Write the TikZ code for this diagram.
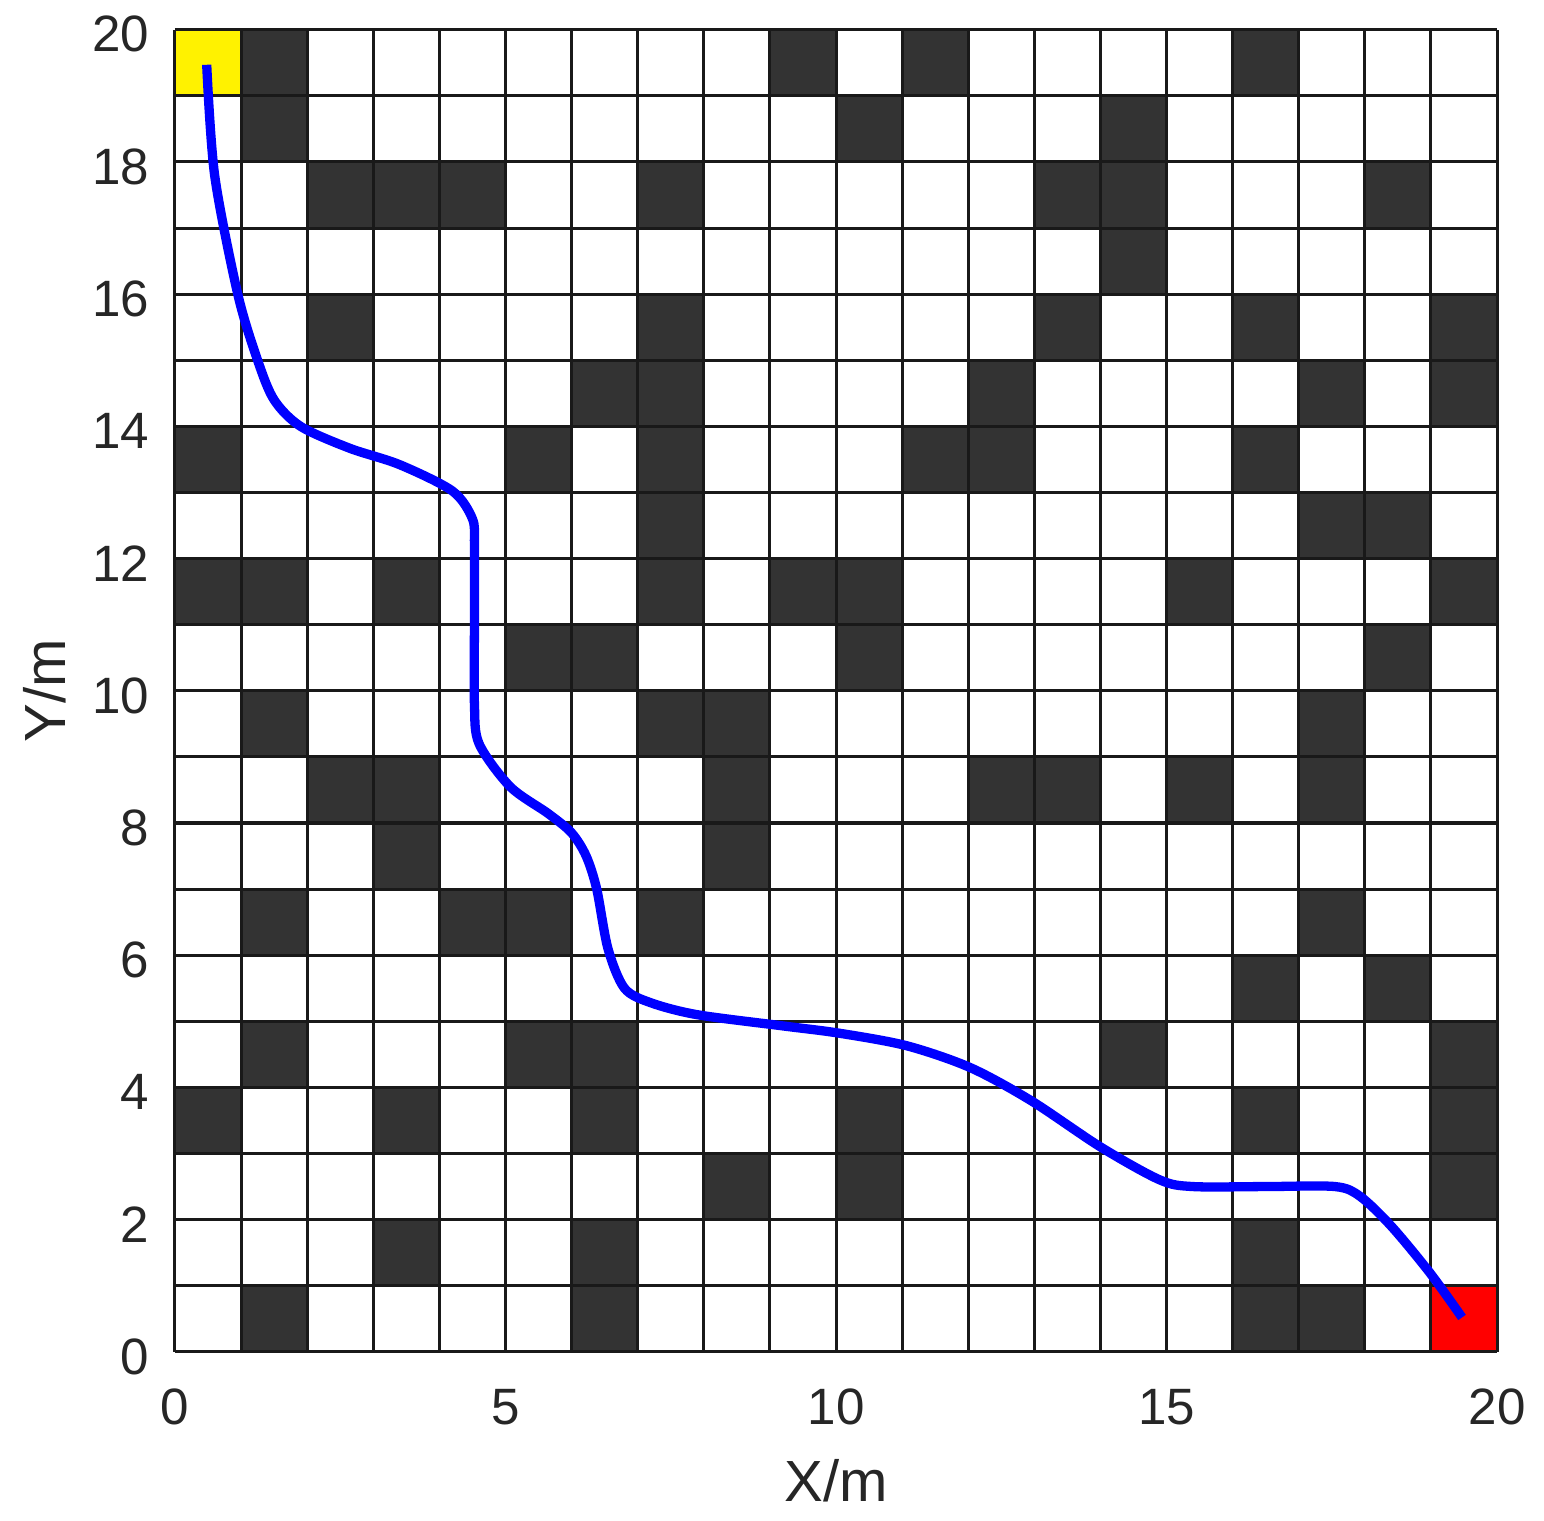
\documentclass[tikz,border=0pt]{standalone}
\usepackage{fontspec}
\setmainfont{Liberation Sans}
\usepackage{xcolor}
\definecolor{obstgrey}{RGB}{51,51,51}
\definecolor{routeblue}{RGB}{0,0,255}

\begin{document}
\begin{tikzpicture}[
    obstacle/.style={fill=obstgrey},
    gridline/.style={draw=black!90, line width=1.3pt},
    ticklabel/.style={font=\fontsize{22}{26}\selectfont, text=black!85, inner sep=0pt},
    axislabel/.style={font=\fontsize{25}{30}\selectfont, text=black!85, inner sep=0pt},
    route/.style={draw=routeblue, line width=4pt, line join=round}
]
\useasboundingbox (-2.647,-2.555) rectangle (20.71,20.45);

% start and goal cells
\fill[yellow] (0,19) rectangle (1,20);
\fill[red]    (19,0) rectangle (20,1);

% obstacles (lower left corner of each cell)
\foreach \x/\y in {1/19,9/19,11/19,16/19,
                   1/18,10/18,14/18,
                   2/17,3/17,4/17,7/17,13/17,14/17,18/17,
                   14/16,
                   2/15,7/15,13/15,16/15,19/15,
                   6/14,7/14,12/14,17/14,19/14,
                   0/13,5/13,7/13,11/13,12/13,16/13,
                   7/12,17/12,18/12,
                   0/11,1/11,3/11,7/11,9/11,10/11,15/11,19/11,
                   5/10,6/10,10/10,18/10,
                   1/9,7/9,8/9,17/9,
                   2/8,3/8,8/8,12/8,13/8,15/8,17/8,
                   3/7,8/7,
                   1/6,4/6,5/6,7/6,17/6,
                   16/5,18/5,
                   1/4,5/4,6/4,14/4,19/4,
                   0/3,3/3,6/3,10/3,16/3,19/3,
                   8/2,10/2,19/2,
                   3/1,6/1,16/1,
                   1/0,6/0,16/0,17/0}
    \fill[obstacle] (\x,\y) rectangle ++(1,1);

\draw[gridline] (0,0) grid (20,20);

% planned path
\draw[route] plot[smooth, tension=0.5] coordinates {
    (0.48,19.47) (0.6,17.8) (0.95,16) (1.25,15)
    (1.5,14.4) (1.9,14) (2.64,13.67) (3.4,13.42) (4.2,13.02) (4.5,12.6)
    (4.53,12.2) (4.53,11) (4.53,9.8) (4.6,9.2) (5.07,8.55) (5.65,8.14)
    (6.0,7.85) (6.22,7.5) (6.38,7.0) (6.55,6.1) (6.8,5.5) (7.2,5.28)
    (7.9,5.1) (9.2,4.93) (10.05,4.82) (11.07,4.63) (12.03,4.3) (12.95,3.8)
    (14,3.1) (14.9,2.6) (15.4,2.5) (16.5,2.5) (17.55,2.5) (17.93,2.35)
    (18.4,1.9) (18.98,1.2) (19.47,0.52)};

% axes
\foreach \x in {0,5,...,20}
    \node[ticklabel] (xt\x) at (\x,-0.83) {\x};
\foreach \y in {0,2,...,20}
    \node[ticklabel, anchor=east] (yt\y) at (-0.38,\y-0.07) {\y};
\node[axislabel] (xlab) at (10,-1.95) {X/m};
\node[axislabel, rotate=90] (ylab) at (-1.97,10) {Y/m};
\end{tikzpicture}
\end{document}
